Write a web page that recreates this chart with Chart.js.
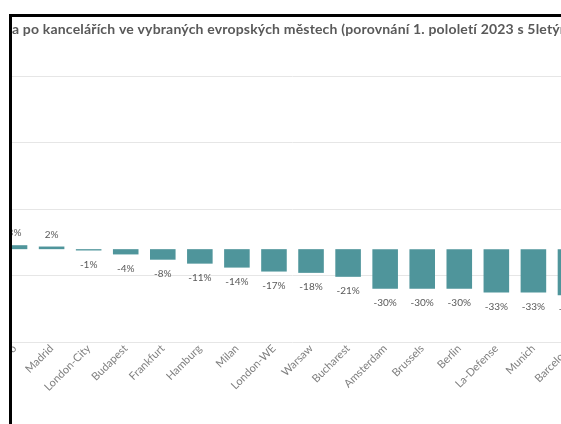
<!DOCTYPE html>
<html>
<head>
<meta charset="utf-8">
<script src="https://cdn.jsdelivr.net/npm/chart.js@4/dist/chart.umd.min.js"></script>
<style>
  body { margin: 0; background: #fff; }
  #frame {
    position: absolute; left: 9px; top: 14px;
    width: 600px; height: 420px;
    border-left: 3px solid #000; border-top: 3px solid #000;
    overflow: hidden; background: #fff;
  }
  #chart { position: absolute; left: -40px; top: 0; }
</style>
</head>
<body>
<div id="frame"><canvas id="chart" width="660" height="407"></canvas></div>
<script>
const titleText = 'Poptávka po kancelářích ve vybraných evropských městech (porovnání 1. pololetí 2023 s 5letým průměrem)'
const titleHidden = 'Poptávk'

const cities = ['Oslo', 'Madrid', 'London-City', 'Budapest', 'Frankfurt', 'Hamburg', 'Milan', 'London-WE',
  'Warsaw', 'Bucharest', 'Amsterdam', 'Brussels', 'Berlin', 'La-Defense', 'Munich', 'Barcelona']
const change = [3, 2, -1, -4, -8, -11, -14, -17, -18, -21, -30, -30, -30, -33, -33, -35]

const grey = '#595959'

// title drawn so that the start of it sits behind the frame, like the crop in the source
const titlePlugin = {
  id: 'cutTitle',
  afterDraw(chart) {
    const ctx = chart.ctx
    ctx.save()
    ctx.font = 'bold 14px Lato'
    ctx.letterSpacing = '0.18px'
    ctx.fillStyle = grey
    ctx.textBaseline = 'middle'
    const w = ctx.measureText(titleHidden).width
    ctx.fillText(titleText, 40 - w, 12)
    ctx.restore()
  },
}

const valueLabels = {
  id: 'valueLabels',
  afterDatasetsDraw(chart) {
    const ctx = chart.ctx
    const meta = chart.getDatasetMeta(0)
    ctx.save()
    ctx.font = '10px Lato'
    ctx.fillStyle = grey
    ctx.textAlign = 'center'
    ctx.textBaseline = 'middle'
    meta.data.forEach((bar, i) => {
      const v = change[i]
      const y = v >= 0 ? bar.y - 12 : bar.y + 14
      ctx.fillText(v + '%', bar.x, y)
    })
    ctx.restore()
  },
}

new Chart(document.getElementById('chart'), {
  type: 'bar',
  data: {
    labels: cities,
    datasets: [{
      data: change,
      backgroundColor: '#4f959b',
      barPercentage: 0.69,
      categoryPercentage: 1,
    }],
  },
  options: {
    responsive: false,
    animation: false,
    layout: { padding: { left: 24, right: 43, top: 59, bottom: 0 } },
    plugins: { legend: { display: false }, tooltip: { enabled: false } },
    scales: {
      x: {
        grid: { display: false, drawTicks: false },
        border: { display: false },
        ticks: {
          autoSkip: false, maxRotation: 45, minRotation: 45,
          padding: 0, color: '#7f7f7f', font: { family: 'Lato', size: 11 },
        },
        afterFit: s => { s.height = 82 },
      },
      y: { display: false, min: -70.5, max: 131.5 },
      y2: {
        position: 'left', min: 0, max: 4,
        ticks: { display: false, stepSize: 1 },
        grid: { color: '#e6e6e6', drawTicks: false },
        border: { display: false },
      },
    },
  },
  plugins: [titlePlugin, valueLabels],
})
</script>
</body>
</html>
